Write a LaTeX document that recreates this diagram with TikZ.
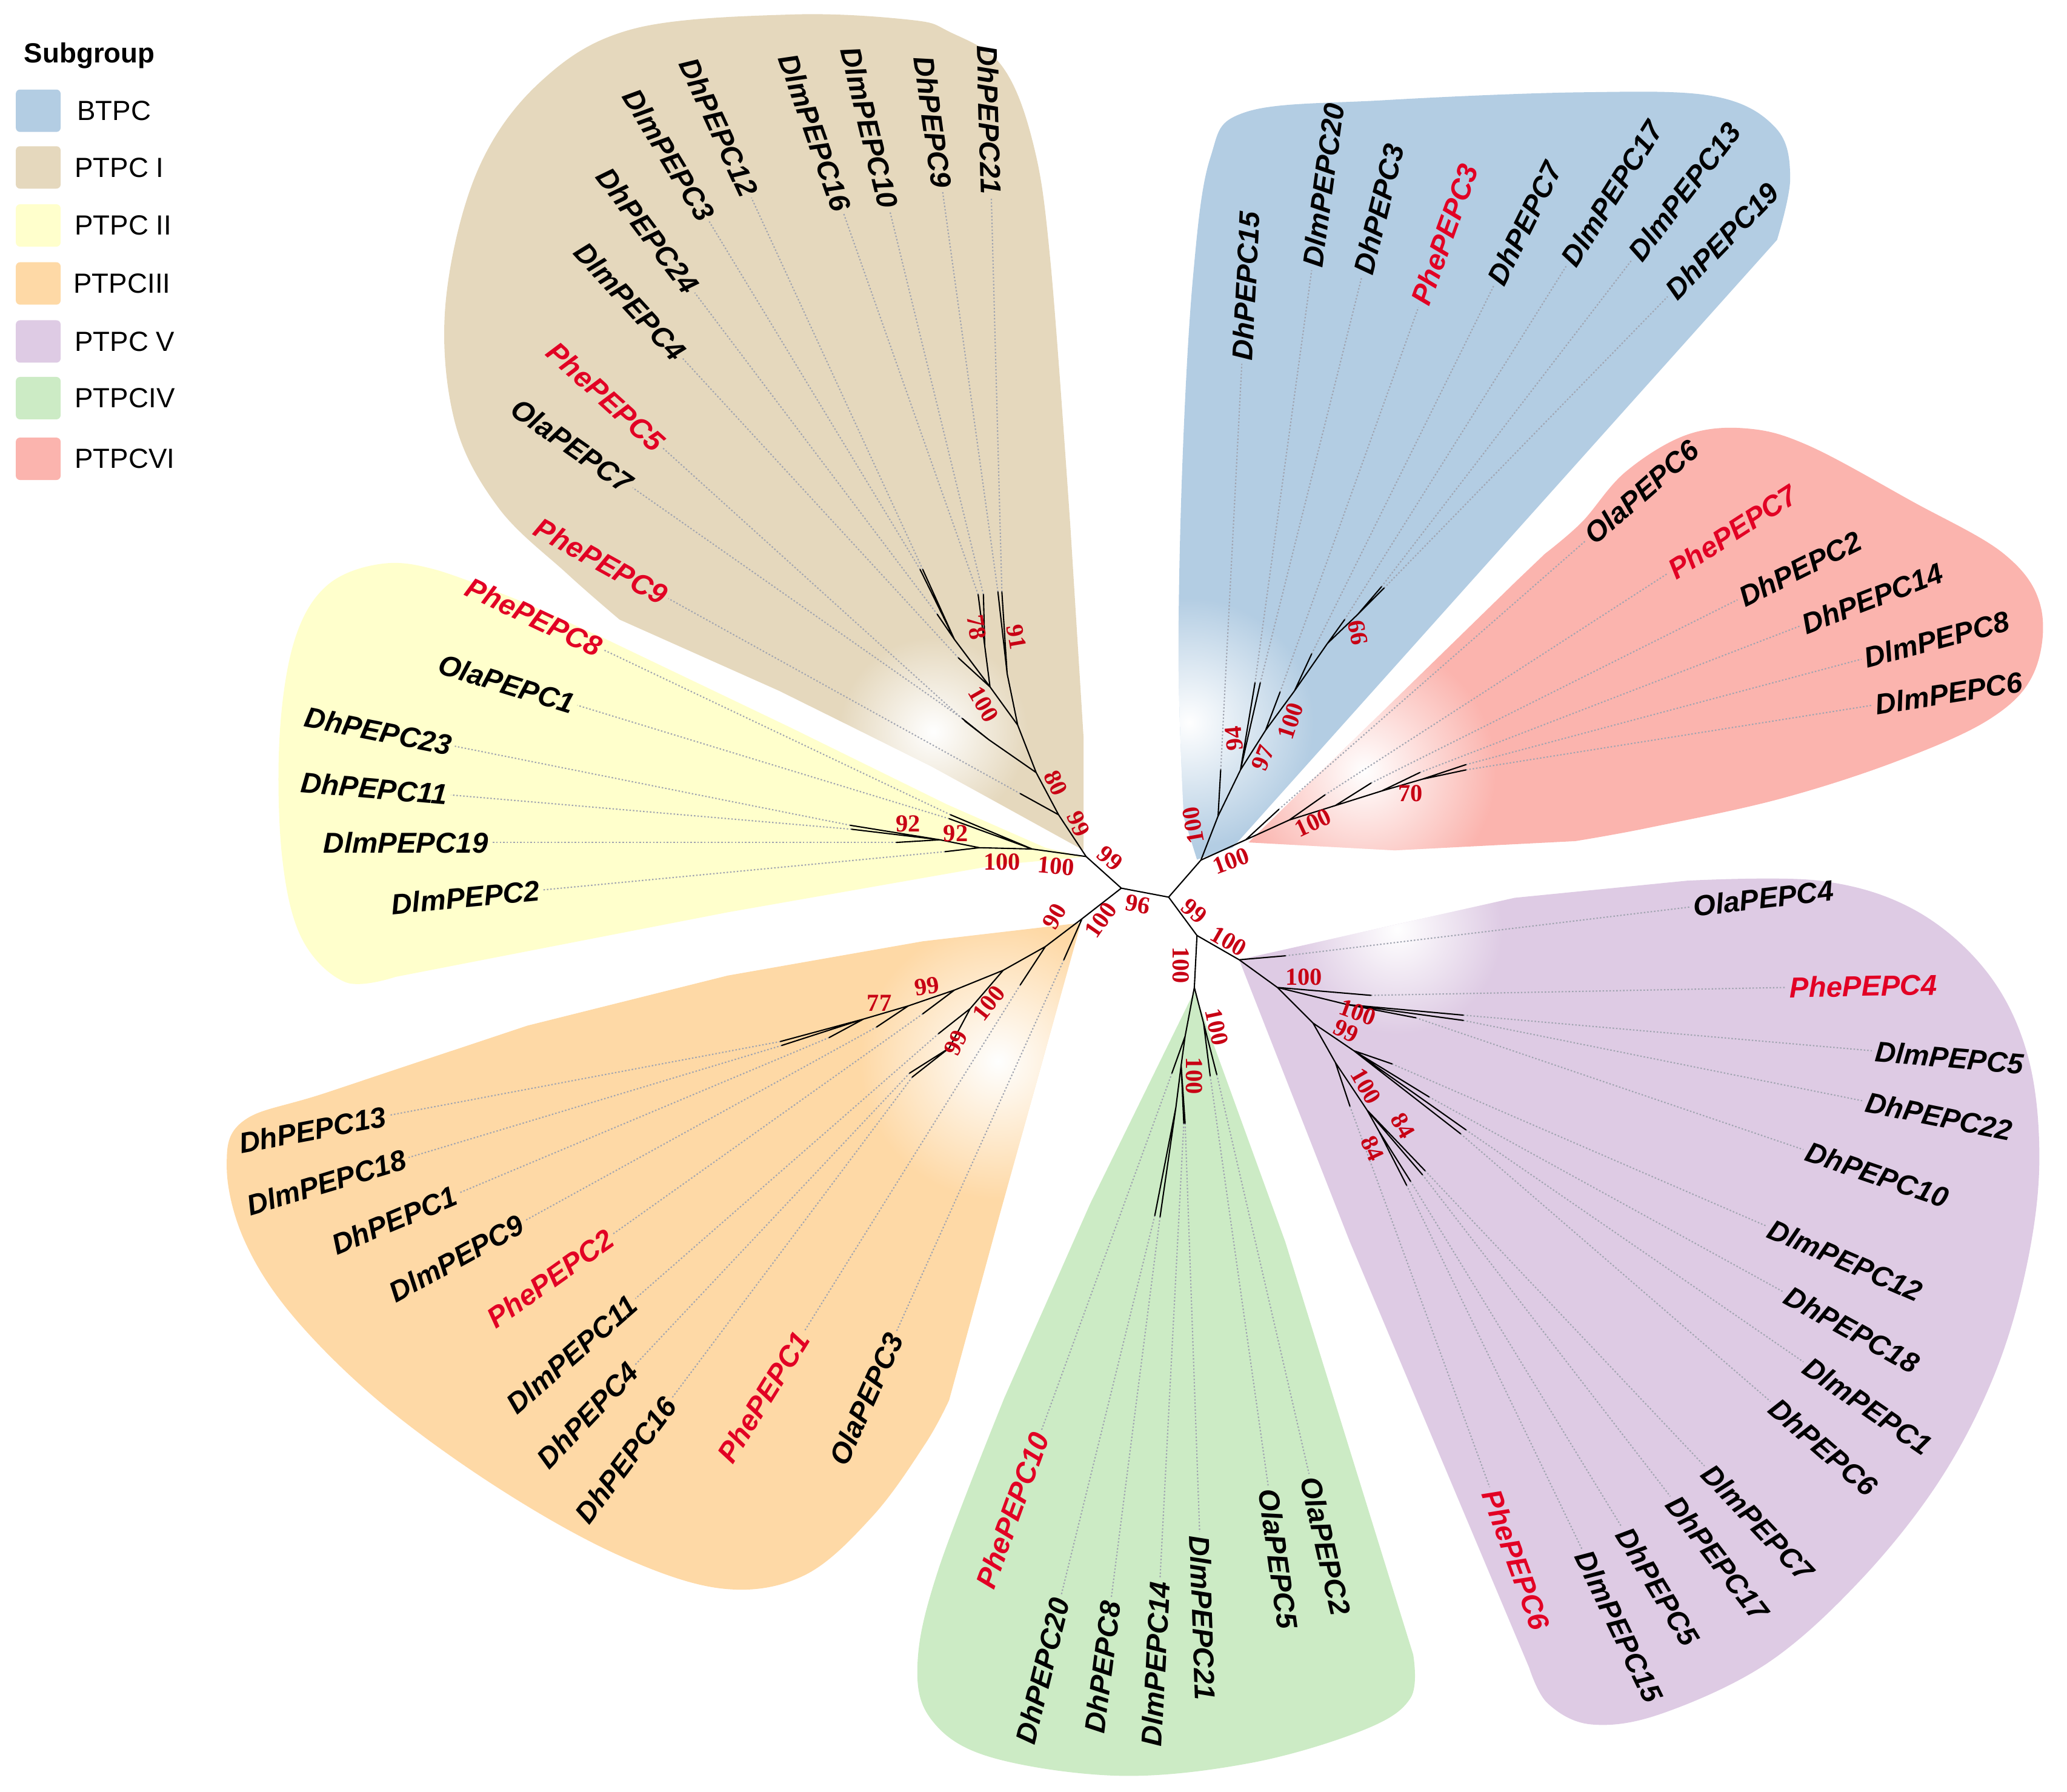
\documentclass[tikz,border=0pt]{standalone}
\usepackage{fontspec}
\setmainfont{Liberation Serif}
\setsansfont{Liberation Sans}
\usetikzlibrary{fadings,positioning}

\definecolor{btpc}{HTML}{B3CDE3}
\definecolor{ptpcI}{HTML}{E5D8BD}
\definecolor{ptpcII}{HTML}{FFFFCC}
\definecolor{ptpcIII}{HTML}{FED9A6}
\definecolor{ptpcIV}{HTML}{CCEBC5}
\definecolor{ptpcV}{HTML}{DECBE4}
\definecolor{ptpcVI}{HTML}{FBB4AE}
\definecolor{phered}{RGB}{226,0,36}
\definecolor{bootred}{RGB}{200,0,20}
\definecolor{dotgray}{RGB}{160,164,176}

\tikzfading[name=glow, inner color=transparent!0, outer color=transparent!100]

\tikzset{
  branch/.style={line width=0.6pt, line cap=round},
  dotline/.style={draw=dotgray, line width=0.6pt, dash pattern=on 0.7pt off 0.9pt},
  leaflab/.style={font=\sffamily\bfseries\itshape\fontsize{13.5}{15}\selectfont, inner sep=1.5pt},
  phe/.style={text=phered},
  boot/.style={font=\rmfamily\bfseries\fontsize{11.5}{12}\selectfont, text=bootred, inner sep=0pt},
  legbox/.style={rounded corners=2pt, minimum width=0.74cm, minimum height=0.70cm, inner sep=0pt},
  legtext/.style={font=\sffamily\fontsize{13}{14}\selectfont, inner sep=0pt},
}

% leaf: tip coordinate, label end point; label turned along the dotted line
\newcommand\leaf[4][]{%
  \coordinate (t#2) at (#3);
  \coordinate (e#2) at (#4);
  \pgfmathanglebetweenpoints{\pgfpointanchor{t#2}{center}}{\pgfpointanchor{e#2}{center}}%
  \let\leafang\pgfmathresult
  \pgfmathtruncatemacro\leafside{(\leafang>90)&&(\leafang<270)}%
  \ifnum\leafside=1
    \pgfmathsetmacro\leafrot{\leafang-180}\def\leafanc{east}%
  \else
    \pgfmathsetmacro\leafrot{\leafang}\def\leafanc{west}%
  \fi
  \node[leaflab,#1,rotate=\leafrot,anchor=\leafanc] (#2) at (e#2) {#2};
  \draw[dotline] (t#2) -- (#2.\leafanc);
}

\begin{document}
\begin{tikzpicture}[x=0.021754cm, y=-0.021754cm]
    \useasboundingbox (0,0) rectangle (1568,1359);

    % petals
    \begin{scope}
        \clip (908,652) -- plot[smooth,tension=0.6] coordinates {(898,620) (894,500) (897,350) (905,210) (918,120) (945,85) (1050,76) (1200,70) (1300,73) (1347,97) (1358,135) (1348,182)} -- (935,643) -- cycle;
        \fill[btpc] (0,0) rectangle (1568,1359);
        \fill[white, path fading=glow] (902,548) circle (95);
    \end{scope}
    \begin{scope}
        \clip (822,645) -- (822,560) -- plot[smooth,tension=0.6] coordinates {(812,400) (797,200) (784,110) (760,50) (720,24) (690,15) (600,11) (480,22) (410,62) (362,130) (338,230) (345,320) (378,385) (430,435) (470,470)} -- (591,524) -- (706,581) -- cycle;
        \fill[ptpcI] (0,0) rectangle (1568,1359);
        \fill[white, path fading=glow] (708,555) circle (72);
    \end{scope}
    \begin{scope}
        \clip (822,650) -- (793,643) -- (718,610) -- (600,552) -- (460,485) -- plot[smooth,tension=0.6] coordinates {(400,458) (330,432) (287,428) (247,445) (223,487) (212,560) (214,650) (229,712) (262,745) (300,741)} -- (552,692) -- (757,656) -- cycle;
        \fill[ptpcII] (0,0) rectangle (1568,1359);
    \end{scope}
    \begin{scope}
        \clip (820,700) -- (700,714) -- (552,740) -- plot[smooth,tension=0.6] coordinates {(400,778) (250,828) (185,850) (172,885) (185,940) (222,998) (290,1065) (380,1130) (470,1180) (548,1205) (610,1195) (662,1150) (702,1095) (720,1062)} -- (759,919) -- cycle;
        \fill[ptpcIII] (0,0) rectangle (1568,1359);
        \fill[white, path fading=glow] (757,805) circle (105);
    \end{scope}
    \begin{scope}
        \clip (906,752) -- (827,913) -- plot[smooth,tension=0.6] coordinates {(762,1060) (712,1190) (696,1262) (707,1305) (752,1333) (850,1347) (950,1337) (1035,1312) (1070,1288) (1072,1255)} -- (975,942) -- cycle;
        \fill[ptpcIV] (0,0) rectangle (1568,1359);
    \end{scope}
    \begin{scope}
        \clip (940,728) -- (1149,681) -- plot[smooth,tension=0.6] coordinates {(1280,668) (1380,668) (1452,690) (1507,737) (1538,800) (1547,880) (1537,962) (1512,1045) (1470,1125) (1410,1200) (1340,1262) (1260,1300) (1207,1308) (1174,1292) (1160,1265)} -- (1024,942) -- cycle;
        \fill[ptpcV] (0,0) rectangle (1568,1359);
        \fill[white, path fading=glow] (1060,705) circle (80);
    \end{scope}
    \begin{scope}
        \clip (947,639) -- (1150,441) -- plot[smooth,tension=0.6] coordinates {(1172,420) (1200,396) (1233,358) (1279,330) (1325,325) (1372,338) (1450,380) (1520,420) (1548,460) (1543,510) (1510,545) (1440,577) (1350,606) (1250,628) (1195,638)} -- (1058,645) -- cycle;
        \fill[ptpcVI] (0,0) rectangle (1568,1359);
        \fill[white, path fading=glow] (1035,585) circle (100);
    \end{scope}

    % legend
    \node[font=\sffamily\bfseries\fontsize{13}{14}\selectfont, anchor=west, inner sep=0pt] (legtitle) at (18,42) {Subgroup};
    \node[legbox, fill=btpc] (kBTPC) at (29,84) {};
    \node[legbox, fill=ptpcI] (kI) at (29,127) {};
    \node[legbox, fill=ptpcII] (kII) at (29,171) {};
    \node[legbox, fill=ptpcIII] (kIII) at (29,215) {};
    \node[legbox, fill=ptpcV] (kV) at (29,259) {};
    \node[legbox, fill=ptpcIV] (kIV) at (29,302) {};
    \node[legbox, fill=ptpcVI] (kVI) at (29,348) {};
    \node[legtext, right=0.26cm of kBTPC] (lBTPC) {BTPC};
    \node[legtext, right=0.22cm of kI] (lI) {PTPC I};
    \node[legtext, right=0.22cm of kII] (lII) {PTPC II};
    \node[legtext, right=0.20cm of kIII] (lIII) {PTPCIII};
    \node[legtext, right=0.22cm of kV] (lV) {PTPC V};
    \node[legtext, right=0.22cm of kIV] (lIV) {PTPCIV};
    \node[legtext, right=0.22cm of kVI] (lVI) {PTPCVI};

    % leaves: PTPC I
    \leaf[phe]{PhePEPC9}{774,602}{507,454}
    \leaf{OlaPEPC7}{730,545}{480,370}
    \leaf[phe]{PhePEPC5}{732,547}{503,340}
    \leaf{DlmPEPC4}{727,499}{518,272}
    \leaf{DhPEPC24}{711,466}{527,222}
    \leaf{DlmPEPC3}{698,432}{538,168}
    \leaf{DhPEPC12}{700,432}{570,150}
    \leaf{DlmPEPC16}{742,451}{640,162}
    \leaf{DlmPEPC10}{746,451}{675,160}
    \leaf{DhPEPC9}{757,449}{715,145}
    \leaf{DhPEPC21}{760,449}{752,150}
    % PTPC II
    \leaf[phe]{PhePEPC8}{721,618}{458,493}
    \leaf{OlaPEPC1}{720,621}{438,535}
    \leaf{DhPEPC23}{645,626}{345,566}
    \leaf{DhPEPC11}{646,629}{342,603}
    \leaf{DlmPEPC19}{680,639}{373,639}
    \leaf{DlmPEPC2}{717,646}{412,675}
    % PTPC III
    \leaf{DhPEPC13}{592,790}{295,846}
    \leaf{DlmPEPC18}{593,793}{310,878}
    \leaf{DhPEPC1}{629,787}{348,905}
    \leaf{DlmPEPC9}{665,779}{398,926}
    \leaf[phe]{PhePEPC2}{700,769}{465,936}
    \leaf{DlmPEPC11}{712,784}{482,985}
    \leaf{DhPEPC4}{690,814}{482,1035}
    \leaf{DhPEPC16}{692,817}{510,1060}
    \leaf[phe]{PhePEPC1}{774,747}{610,1010}
    \leaf{OlaPEPC3}{807,728}{680,1010}
    % PTPC IV
    \leaf[phe]{PhePEPC10}{889,814}{790,1085}
    \leaf{DhPEPC20}{876,922}{805,1210}
    \leaf{DhPEPC8}{880,923}{843,1212}
    \leaf{DlmPEPC14}{898,852}{880,1197}
    \leaf{DlmPEPC21}{899,852}{910,1162}
    \leaf{OlaPEPC5}{918,816}{962,1127}
    \leaf{OlaPEPC2}{923,815}{993,1118}
    % PTPC V
    \leaf{OlaPEPC4}{975,725}{1282,688}
    \leaf[phe]{PhePEPC4}{1040,755}{1355,749}
    \leaf{DlmPEPC5}{1110,770}{1420,797}
    \leaf{DhPEPC22}{1110,774}{1413,835}
    \leaf{DhPEPC10}{1074,772}{1368,872}
    \leaf{DlmPEPC12}{1056,807}{1340,930}
    \leaf{DhPEPC18}{1084,832}{1353,980}
    \leaf{DlmPEPC1}{1112,857}{1368,1033}
    \leaf{DhPEPC6}{1108,860}{1343,1063}
    \leaf{DlmPEPC7}{1081,888}{1293,1112}
    \leaf{DhPEPC17}{1079,891}{1267,1135}
    \leaf{DhPEPC5}{1070,896}{1230,1158}
    \leaf{DlmPEPC15}{1067,899}{1200,1175}
    \leaf[phe]{PhePEPC6}{1024,839}{1130,1128}
    % BTPC
    \leaf{DhPEPC15}{926,584}{942,276}
    \leaf{DlmPEPC20}{952,518}{995,205}
    \leaf{DhPEPC3}{956,518}{1033,210}
    \leaf[phe]{PhePEPC3}{971,525}{1076,233}
    \leaf{DhPEPC7}{995,496}{1133,217}
    \leaf{DlmPEPC17}{1020,470}{1188,202}
    \leaf{DlmPEPC13}{1048,445}{1238,197}
    \leaf{DhPEPC19}{1050,446}{1265,225}
    % PTPC VI
    \leaf{OlaPEPC6}{970,614}{1203,410}
    \leaf[phe]{PhePEPC7}{1005,603}{1265,435}
    \leaf{DhPEPC2}{1040,594}{1318,455}
    \leaf{DhPEPC14}{1077,586}{1365,475}
    \leaf{DlmPEPC8}{1112,580}{1412,500}
    \leaf{DlmPEPC6}{1112,584}{1420,535}

    % inner nodes of the tree
    \coordinate (nA) at (850.6,673.7);
    \coordinate (nB) at (886.5,680.5);
    \coordinate (nC) at (823.9,649.7);
    \coordinate (nD) at (820.8,696.9);
    \coordinate (nE) at (911,652.4);
    \coordinate (nF) at (908,709.6);
    \coordinate (nT1) at (803,618);
    \coordinate (nT2) at (786,586);
    \coordinate (nT3) at (750,561);
    \coordinate (nT4) at (772,550);
    \coordinate (nT5) at (764,511);
    \coordinate (nT6) at (751,521);
    \coordinate (nT7) at (747,490);
    \coordinate (nT8) at (724,485);
    \coordinate (nY1) at (783,644);
    \coordinate (nY2) at (743,643);
    \coordinate (nY3) at (713,637);
    \coordinate (nO1) at (793,718);
    \coordinate (nO2) at (761,736);
    \coordinate (nO3) at (724,751);
    \coordinate (nO4) at (689,763);
    \coordinate (nO5) at (655,773);
    \coordinate (nO6) at (736,765);
    \coordinate (nO7) at (720,795);
    \coordinate (nG0) at (906,749);
    \coordinate (nG1) at (899,786);
    \coordinate (nG2) at (896,808);
    \coordinate (nG3) at (892,840);
    \coordinate (nG4) at (913,776);
    \coordinate (nP0) at (940,728);
    \coordinate (nP1) at (969,749);
    \coordinate (nP2) at (1022,762);
    \coordinate (nP3) at (996,776);
    \coordinate (nP4) at (1027,797);
    \coordinate (nP5) at (1013,806);
    \coordinate (nP6) at (1037,842);
    \coordinate (nP7) at (1046,858);
    \coordinate (nB1) at (924,619);
    \coordinate (nB2) at (941,584);
    \coordinate (nB3) at (960,554);
    \coordinate (nB4) at (982,524);
    \coordinate (nB5) at (1007,488);
    \coordinate (nB6) at (1030,466);
    \coordinate (nR1) at (945,637);
    \coordinate (nR2) at (978,622);
    \coordinate (nR3) at (1013,611);
    \coordinate (nR4) at (1048,600);
    \coordinate (nR5) at (1079,591);

    % branches
    \draw[branch] (nC) -- (nA) -- (nB) -- (nE) (nA) -- (nD) (nB) -- (nF);
    \draw[branch] (nC) -- (nT1) -- (tPhePEPC9) (nT1) -- (nT2) -- (nT3) -- (tOlaPEPC7) (nT3) -- (tPhePEPC5)
        (nT2) -- (nT4) -- (nT5) -- (tDhPEPC9) (nT5) -- (tDhPEPC21)
        (nT4) -- (nT6) -- (tDlmPEPC4) (nT6) -- (nT7) -- (tDlmPEPC16) (nT7) -- (tDlmPEPC10)
        (nT6) -- (nT8) -- (tDhPEPC24) (nT8) -- (tDlmPEPC3) (nT8) -- (tDhPEPC12);
    \draw[branch] (nC) -- (nY1) -- (tPhePEPC8) (nY1) -- (tOlaPEPC1) (nY1) -- (nY2) -- (tDlmPEPC2)
        (nY2) -- (nY3) -- (tDlmPEPC19) (nY3) -- (tDhPEPC23) (nY3) -- (tDhPEPC11);
    \draw[branch] (nD) -- (tOlaPEPC3) (nD) -- (nO1) -- (tPhePEPC1) (nO1) -- (nO2) -- (nO3) -- (tPhePEPC2)
        (nO3) -- (nO4) -- (tDlmPEPC9) (nO4) -- (nO5) -- (tDhPEPC1) (nO5) -- (tDhPEPC13) (nO5) -- (tDlmPEPC18)
        (nO2) -- (nO6) -- (tDlmPEPC11) (nO6) -- (nO7) -- (tDhPEPC4) (nO7) -- (tDhPEPC16);
    \draw[branch] (nF) -- (nG0) -- (nG1) -- (tPhePEPC10) (nG1) -- (nG2) -- (tDlmPEPC14) (nG2) -- (tDlmPEPC21)
        (nG2) -- (nG3) -- (tDhPEPC20) (nG3) -- (tDhPEPC8) (nG0) -- (nG4) -- (tOlaPEPC5) (nG4) -- (tOlaPEPC2);
    \draw[branch] (nF) -- (nP0) -- (tOlaPEPC4) (nP0) -- (nP1) -- (tPhePEPC4) (nP1) -- (nP2) -- (tDlmPEPC5)
        (nP2) -- (tDhPEPC22) (nP2) -- (tDhPEPC10) (nP1) -- (nP3) -- (nP4) -- (tDlmPEPC12) (nP4) -- (tDhPEPC18)
        (nP4) -- (tDlmPEPC1) (nP4) -- (tDhPEPC6) (nP3) -- (nP5) -- (tPhePEPC6) (nP5) -- (nP6) -- (tDlmPEPC7)
        (nP6) -- (tDhPEPC17) (nP6) -- (nP7) -- (tDhPEPC5) (nP7) -- (tDlmPEPC15);
    \draw[branch] (nE) -- (nB1) -- (tDhPEPC15) (nB1) -- (nB2) -- (tDlmPEPC20) (nB2) -- (tDhPEPC3)
        (nB2) -- (nB3) -- (tPhePEPC3) (nB3) -- (nB4) -- (tDhPEPC7) (nB4) -- (nB5) -- (tDlmPEPC17)
        (nB5) -- (nB6) -- (tDlmPEPC13) (nB6) -- (tDhPEPC19);
    \draw[branch] (nE) -- (nR1) -- (tOlaPEPC6) (nR1) -- (nR2) -- (tPhePEPC7) (nR2) -- (nR3) -- (tDhPEPC2)
        (nR3) -- (nR4) -- (tDhPEPC14) (nR4) -- (nR5) -- (tDlmPEPC8) (nR5) -- (tDlmPEPC6);

    % bootstrap values
    \node[boot, rotate=-40] (bs1) at (842,651) {99};
    \node[boot, rotate=-10] (bs2) at (863,686) {96};
    \node[boot, rotate=55] (bs3) at (835,698) {100};
    \node[boot, rotate=60] (bs4) at (800,695) {90};
    \node[boot, rotate=-40] (bs5) at (906,691) {99};
    \node[boot, rotate=-30] (bs6) at (932,714) {100};
    \node[boot, rotate=-90] (bs7) at (896,732) {100};
    \node[boot, rotate=100] (bs8) at (905,626) {100};
    \node[boot, rotate=20] (bs9) at (934,653) {100};
    \node[boot, rotate=95] (bs10) at (936,560) {94};
    \node[boot, rotate=68] (bs11) at (958,575) {97};
    \node[boot, rotate=72] (bs12) at (979,547) {100};
    \node[boot, rotate=100] (bs13) at (1030,480) {99};
    \node[boot, rotate=25] (bs14) at (996,624) {100};
    \node[boot] (bs15) at (1070,602) {70};
    \node[boot, rotate=-80] (bs16) at (741,476) {78};
    \node[boot, rotate=-80] (bs17) at (771,483) {91};
    \node[boot, rotate=-60] (bs18) at (746,534) {100};
    \node[boot, rotate=-65] (bs19) at (801,594) {80};
    \node[boot, rotate=-65] (bs20) at (818,625) {99};
    \node[boot] (bs21) at (689,625) {92};
    \node[boot] (bs22) at (725,632) {92};
    \node[boot] (bs23) at (760,654) {100};
    \node[boot, rotate=-5] (bs24) at (801,657) {100};
    \node[boot] (bs25) at (667,761) {77};
    \node[boot, rotate=8] (bs26) at (703,748) {99};
    \node[boot, rotate=52] (bs27) at (750,761) {100};
    \node[boot, rotate=65] (bs28) at (725,791) {99};
    \node[boot, rotate=-78] (bs29) at (923,779) {100};
    \node[boot, rotate=-90] (bs30) at (906,816) {100};
    \node[boot] (bs31) at (989,741) {100};
    \node[boot, rotate=-20] (bs32) at (1030,768) {100};
    \node[boot, rotate=-25] (bs33) at (1021,782) {99};
    \node[boot, rotate=-60] (bs34) at (1036,824) {100};
    \node[boot, rotate=-60] (bs35) at (1064,854) {84};
    \node[boot, rotate=-65] (bs36) at (1041,871) {84};
\end{tikzpicture}
\end{document}
